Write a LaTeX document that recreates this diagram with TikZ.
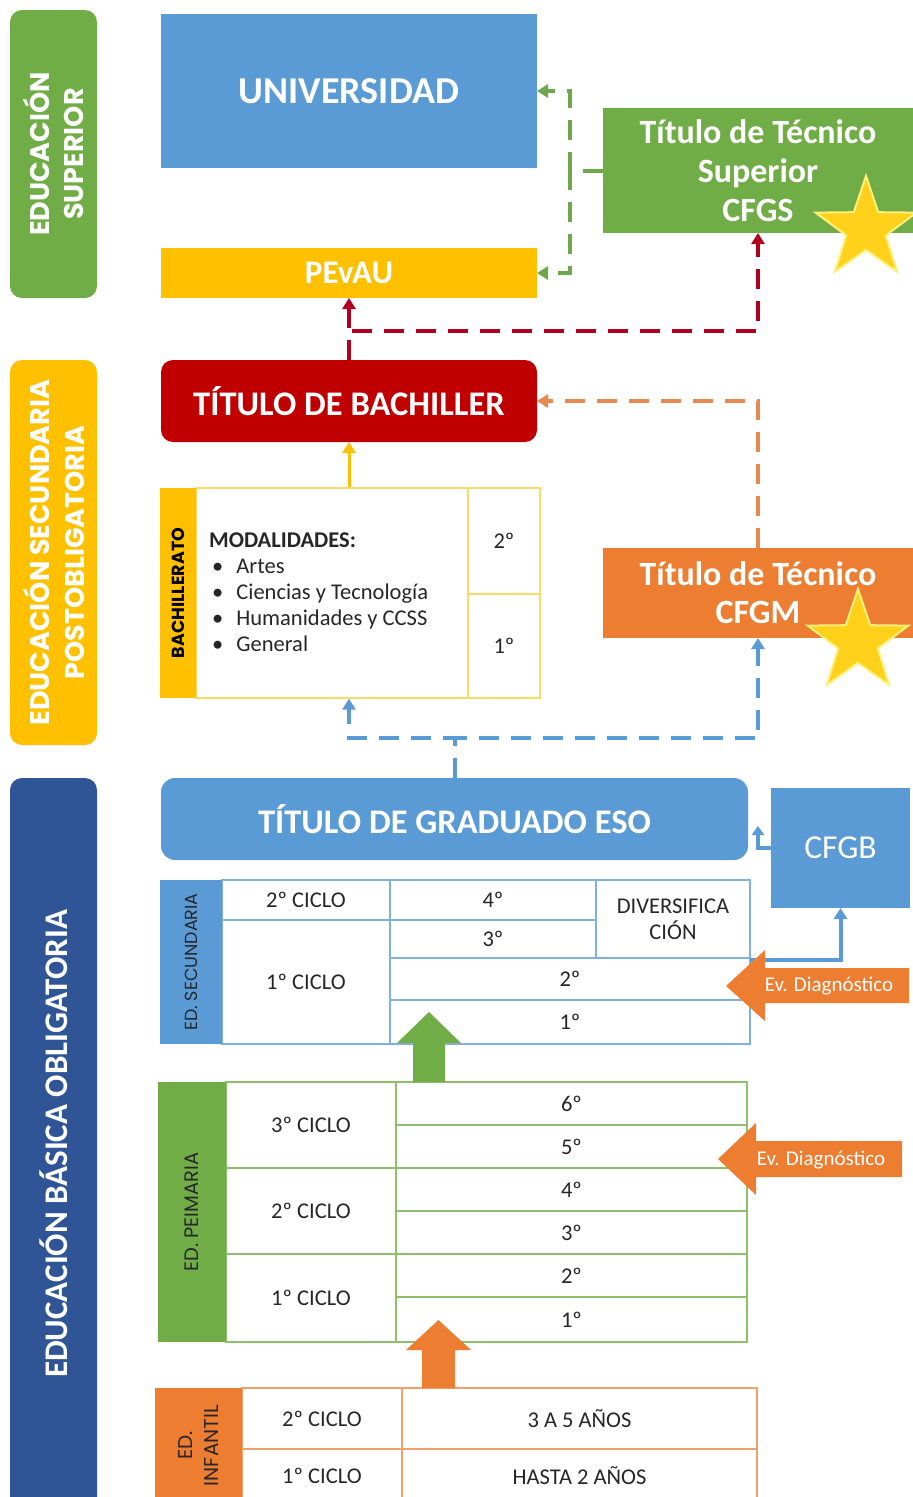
\documentclass[tikz,border=0pt]{standalone}
\usepackage{fontspec}
\setmainfont{Carlito}
\newfontfamily\gothic{Poppins}
\usetikzlibrary{shapes.geometric,arrows.meta}
\definecolor{cblue}{HTML}{5B9BD5}
\definecolor{cgreen}{HTML}{70AD47}
\definecolor{cyellow}{HTML}{FFC000}
\definecolor{cred}{HTML}{C00000}
\definecolor{corange}{HTML}{ED7D31}
\definecolor{cnavy}{HTML}{2F5597}
\definecolor{cstar}{HTML}{FFD11A}
\definecolor{cstarb}{HTML}{FFF07A}
\definecolor{ctext}{HTML}{262626}
\definecolor{dgreen}{HTML}{6FA84C}
\definecolor{dred}{HTML}{B0001E}
\definecolor{dorange}{HTML}{E8894F}
\definecolor{bachb}{HTML}{FFD966}
\definecolor{secb}{HTML}{7FB0DE}
\definecolor{prib}{HTML}{8CC06A}
\definecolor{infb}{HTML}{F0A06A}
\begin{document}
\begin{tikzpicture}[x=1pt,y=-1pt,
  box/.style={rectangle, inner sep=0, outer sep=0, text=white, align=center},
  sideband/.style={rectangle, rounded corners=12, inner sep=0, fill=#1, text=white, align=center, rotate=90},
  cell/.style={rectangle, draw=#1, line width=1.3, inner sep=0, text=ctext, align=center, font=\fontsize{22.5}{26}\selectfont},
  tband/.style={rectangle, fill=#1, inner sep=0, text=ctext, align=center, rotate=90},
  dsh/.style={draw=#1, line width=4, dash pattern=on 20pt off 12pt},
  tip/.style={-{Triangle[length=11pt,width=13pt]}},
  starbox/.style={star, star points=5, star point ratio=2.55, minimum size=106, inner sep=0, fill=cstar, draw=cstarb, line width=2},
  evtext/.style={text=white, font=\fontsize{21}{24}\selectfont},
]
\useasboundingbox (0,0) rectangle (913,1497);

% side bands
\node[sideband=cgreen, minimum width=288, minimum height=87, font=\gothic\bfseries\fontsize{27}{34}\selectfont] (bsup) at (53.5,154) {EDUCACIÓN\\SUPERIOR};
\node[sideband=cyellow, minimum width=385, minimum height=87, font=\gothic\bfseries\fontsize{27}{35}\selectfont] (bsec) at (53.5,552.5) {EDUCACIÓN SECUNDARIA\\POSTOBLIGATORIA};
\node[sideband=cnavy, minimum width=732, minimum height=87, font=\bfseries\fontsize{33}{38}\selectfont] (bbas) at (53.5,1144) {EDUCACIÓN BÁSICA OBLIGATORIA};

% main boxes
\node[box, fill=cblue, minimum width=376, minimum height=154, font=\bfseries\fontsize{38}{44}\selectfont] (univ) at (349,91) {UNIVERSIDAD};
\node[box, fill=cyellow, minimum width=376, minimum height=50, font=\bfseries\fontsize{33}{38}\selectfont] (pevau) at (349,273) {PEvAU};
\node[box, fill=cgreen, minimum width=310, minimum height=125, font=\bfseries\fontsize{34}{39}\selectfont] (cfgs) at (758,170.5) {Título de Técnico\\Superior\\CFGS};
\node[box, fill=cred, rounded corners=12, minimum width=376, minimum height=82, font=\bfseries\fontsize{34.5}{40}\selectfont] (bachiller) at (349,401) {TÍTULO DE BACHILLER};
\node[box, fill=corange, minimum width=310, minimum height=90, font=\bfseries\fontsize{34}{38}\selectfont] (cfgm) at (758,593) {Título de Técnico\\CFGM};
\node[box, fill=cblue, rounded corners=14, minimum width=587, minimum height=82, font=\bfseries\fontsize{34.5}{40}\selectfont] (eso) at (454.5,819) {TÍTULO DE GRADUADO ESO};
\node[box, fill=cblue, minimum width=139, minimum height=120, font=\fontsize{33.5}{38}\selectfont] (cfgb) at (840.5,848) {CFGB};

% bachillerato table
\node[cell=bachb, minimum width=272, minimum height=210] (bmain) at (332,593) {};
\node[cell=bachb, minimum width=72, minimum height=106] (b2) at (504,541) {2º};
\node[cell=bachb, minimum width=72, minimum height=104] (b1) at (504,646) {1º};
\node[tband=cyellow, minimum width=210, minimum height=36, text=black, font=\gothic\bfseries\fontsize{17.5}{20}\selectfont] (bband) at (178,593) {BACHILLERATO};
\node[anchor=north west, inner sep=0, text=ctext, font=\fontsize{22.5}{26}\selectfont] (bmod) at (209,529)
  {\begin{tabular}{@{}l@{\hspace{13pt}}l@{}}\multicolumn{2}{@{}l@{}}{\textbf{MODALIDADES:}}\\
   \hspace{3pt}• & Artes\\ \hspace{3pt}• & Ciencias y Tecnología\\ \hspace{3pt}• & Humanidades y CCSS\\ \hspace{3pt}• & General\end{tabular}};

% secundaria table
\node[cell=secb, minimum width=168, minimum height=40] (s2c) at (306,900) {2º CICLO};
\node[cell=secb, minimum width=168, minimum height=124] (s1c) at (306,982) {1º CICLO};
\node[cell=secb, minimum width=206, minimum height=40] (s4) at (493,900) {4º};
\node[cell=secb, minimum width=206, minimum height=38] (s3) at (493,939) {3º};
\node[cell=secb, minimum width=154, minimum height=78] (sdiv) at (673,919) {DIVERSIFICA\\CIÓN};
\node[cell=secb, minimum width=360, minimum height=42] (s2) at (570,979) {2º};
\node[cell=secb, minimum width=360, minimum height=44] (s1) at (570,1022) {1º};
\node[tband=cblue, minimum width=164, minimum height=62, font=\gothic\fontsize{17.5}{22}\selectfont] (sband) at (191,962) {ED. SECUNDARIA};

% primaria table
\node[cell=prib, minimum width=170, minimum height=86] (p3c) at (311,1125) {3º CICLO};
\node[cell=prib, minimum width=170, minimum height=86] (p2c) at (311,1211) {2º CICLO};
\node[cell=prib, minimum width=170, minimum height=88] (p1c) at (311,1298) {1º CICLO};
\node[cell=prib, minimum width=351, minimum height=43] (p6) at (571.5,1103.5) {6º};
\node[cell=prib, minimum width=351, minimum height=43] (p5) at (571.5,1146.5) {5º};
\node[cell=prib, minimum width=351, minimum height=43] (p4) at (571.5,1189.5) {4º};
\node[cell=prib, minimum width=351, minimum height=43] (p3) at (571.5,1232.5) {3º};
\node[cell=prib, minimum width=351, minimum height=43] (p2) at (571.5,1275.5) {2º};
\node[cell=prib, minimum width=351, minimum height=45] (p1) at (571.5,1319.5) {1º};
\node[tband=cgreen, minimum width=260, minimum height=68, font=\gothic\fontsize{19.5}{24}\selectfont] (pband) at (192,1212) {ED. PEIMARIA};

% infantil table
\node[cell=infb, minimum width=160, minimum height=61] (i2c) at (322,1418.5) {2º CICLO};
\node[cell=infb, minimum width=160, minimum height=54] (i1c) at (322,1476) {1º CICLO};
\node[cell=infb, minimum width=355, minimum height=61] (i35) at (579.5,1418.5) {3 A 5 AÑOS};
\node[cell=infb, minimum width=355, minimum height=54] (i02) at (579.5,1476) {HASTA 2 AÑOS};
\node[tband=corange, minimum width=115, minimum height=87, font=\gothic\fontsize{20}{26}\selectfont] (iband) at (198.5,1445.5) {ED.\\INFANTIL};

% stars
\node[starbox] (star1) at (866,229) {};
\node[starbox] (star2) at (858,642) {};

% dashed connectors
\draw[dsh=dgreen, tip] (cfgs.west) -- ++(-33,0) |- (univ.east);
\draw[dsh=dgreen, tip] (cfgs.west) -- ++(-33,0) |- (pevau.east);
\draw[dsh=dred, tip] (bachiller.north) -- (pevau.south);
\draw[dsh=dred, tip] (bachiller.north) -- ++(0,-29) -| (cfgs.south);
\draw[dsh=dorange, tip] (cfgm.north) |- (bachiller.east);
\draw[dsh=cblue, tip] (eso.north) -- ++(0,-40) -| (cfgm.south);
\draw[dsh=cblue, tip] (eso.north) -- ++(0,-40) -| (bachiller.south |- bmain.south);

% solid connectors
\draw[cyellow, line width=3, tip] (bachiller.south |- bmain.north) -- (bachiller.south);
\draw[cblue, line width=4, tip] (750,960) -| (cfgb.south);
\draw[cblue, line width=4, -{Triangle[length=9pt,width=12pt]}] (cfgb.west) -| (758,826);

% big arrows
\fill[cgreen] (413,1082) -- (413,1043) -- (397,1043) -- (429,1012) -- (461,1043) -- (445,1043) -- (445,1082) -- cycle;
\fill[corange] (422,1388) -- (422,1350) -- (406,1350) -- (438.5,1320) -- (471,1350) -- (455,1350) -- (455,1388) -- cycle;

% Ev. Diagnostico arrows
\fill[corange] (909,968) -- (765,968) -- (765,950) -- (726,986) -- (765,1021) -- (765,1003) -- (909,1003) -- cycle;
\node[evtext] (ev1) at (829,986) {Ev. Diagnóstico};
\fill[corange] (902,1141) -- (756,1141) -- (756,1123) -- (718,1159) -- (756,1195) -- (756,1177) -- (902,1177) -- cycle;
\node[evtext] (ev2) at (821,1160) {Ev. Diagnóstico};
\end{tikzpicture}
\end{document}
